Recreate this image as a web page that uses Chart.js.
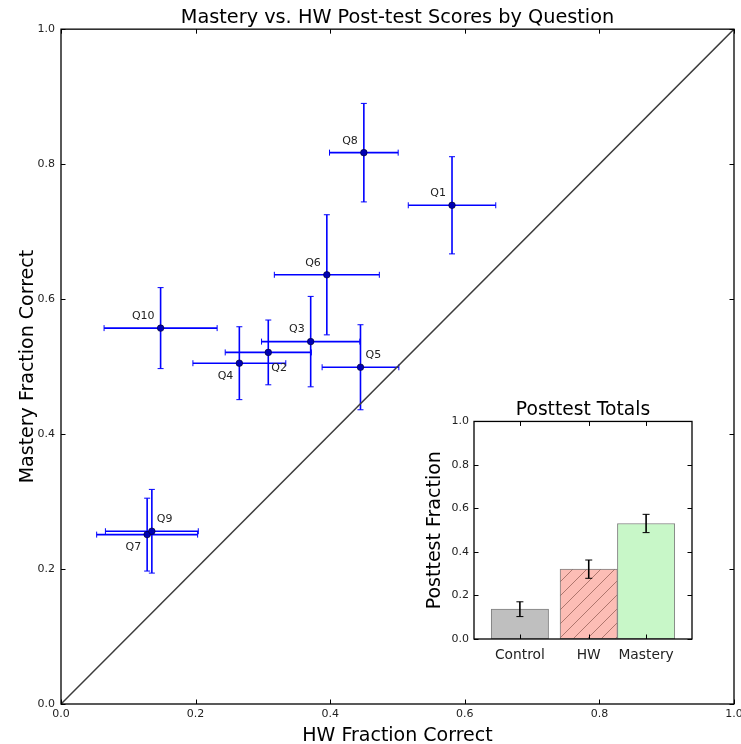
<!DOCTYPE html>
<html>
<head>
<meta charset="utf-8">
<title>Mastery vs. HW Post-test Scores by Question</title>
<script src="https://cdn.jsdelivr.net/npm/chart.js@4.4.1/dist/chart.umd.min.js"></script>
<style>
  html, body { margin: 0; padding: 0; background: #fff; }
  #wrap { position: relative; width: 741px; height: 744px; }
  #mainChart { position: absolute; left: 0; top: 0; }
  #insetChart { position: absolute; left: 404px; top: 388px; }
</style>
</head>
<body>
<div id="wrap">
  <canvas id="mainChart" width="741" height="744"></canvas>
  <canvas id="insetChart" width="300" height="280"></canvas>
</div>
<script>
// Per-question scores
const questions    = ['Q1', 'Q2', 'Q3', 'Q4', 'Q5', 'Q6', 'Q7', 'Q8', 'Q9', 'Q10'];
const hwScore      = [0.581, 0.308, 0.371, 0.265, 0.445, 0.395, 0.128, 0.450, 0.135, 0.148];
const hwErr        = [0.065, 0.064, 0.073, 0.069, 0.057, 0.078, 0.075, 0.051, 0.069, 0.084];
const masteryScore = [0.739, 0.521, 0.537, 0.505, 0.499, 0.636, 0.251, 0.817, 0.256, 0.557];
const masteryErr   = [0.072, 0.048, 0.067, 0.054, 0.063, 0.089, 0.054, 0.073, 0.062, 0.060];
// where each question label sits relative to its point
const labelSide    = ['ul', 'lr', 'ul', 'll', 'ur', 'ul', 'll', 'ul', 'ur', 'ul'];

// y = x reference line, over the axis range
const diagLine  = [0, 1];
const axisTicks = [0, 0.2, 0.4, 0.6, 0.8, 1.0];

// Inset: posttest totals
const groups      = ['Control', 'HW', 'Mastery'];
const groupPos    = [0.8, 2.0, 3.0];
const posttest    = [0.137, 0.321, 0.531];
const posttestErr = [0.034, 0.042, 0.042];

Chart.defaults.font.family = "'DejaVu Sans', sans-serif";
Chart.defaults.color = '#222';

const TICK = 4.5;

// inward ticks on all four sides + box frame (matplotlib classic look)
const frameTicks = {
    id: 'frameTicks',
    afterDraw(chart) {
        const { ctx, chartArea: a, scales: { x, y } } = chart;
        ctx.save();
        ctx.strokeStyle = '#000';
        ctx.lineWidth = 1;
        ctx.beginPath();
        x.ticks.forEach(t => {
            const px = Math.round(x.getPixelForValue(t.value)) + 0.5;
            ctx.moveTo(px, a.bottom); ctx.lineTo(px, a.bottom - TICK);
            ctx.moveTo(px, a.top);    ctx.lineTo(px, a.top + TICK);
        });
        y.ticks.forEach(t => {
            const py = Math.round(y.getPixelForValue(t.value)) + 0.5;
            ctx.moveTo(a.left, py);  ctx.lineTo(a.left + TICK, py);
            ctx.moveTo(a.right, py); ctx.lineTo(a.right - TICK, py);
        });
        ctx.stroke();
        ctx.lineWidth = 1.3;
        ctx.strokeRect(a.left, a.top, a.right - a.left, a.bottom - a.top);
        ctx.restore();
    }
};

// x and y error bars for the question scatter
const questionErrors = {
    id: 'questionErrors',
    beforeDatasetsDraw(chart) {
        const { ctx, scales: { x, y } } = chart;
        const cap = 3;
        ctx.save();
        ctx.strokeStyle = '#0000ff';
        questions.forEach((q, i) => {
            const px = x.getPixelForValue(hwScore[i]);
            const py = y.getPixelForValue(masteryScore[i]);
            const x0 = x.getPixelForValue(hwScore[i] - hwErr[i]);
            const x1 = x.getPixelForValue(hwScore[i] + hwErr[i]);
            const y0 = y.getPixelForValue(masteryScore[i] - masteryErr[i]);
            const y1 = y.getPixelForValue(masteryScore[i] + masteryErr[i]);
            ctx.lineWidth = 1.6;
            ctx.beginPath();
            ctx.moveTo(x0, py); ctx.lineTo(x1, py);
            ctx.moveTo(px, y0); ctx.lineTo(px, y1);
            ctx.stroke();
            ctx.lineWidth = 1;
            ctx.beginPath();
            ctx.moveTo(x0, py - cap); ctx.lineTo(x0, py + cap);
            ctx.moveTo(x1, py - cap); ctx.lineTo(x1, py + cap);
            ctx.moveTo(px - cap, y0); ctx.lineTo(px + cap, y0);
            ctx.moveTo(px - cap, y1); ctx.lineTo(px + cap, y1);
            ctx.stroke();
        });
        ctx.restore();
    }
};

// Q-labels next to each point
const questionLabels = {
    id: 'questionLabels',
    afterDatasetsDraw(chart) {
        const { ctx, scales: { x, y } } = chart;
        const offsets = {
            ul: [-6, -12, 'right'],
            ur: [5, -12, 'left'],
            ll: [-6, 13, 'right'],
            lr: [3, 16, 'left']
        };
        ctx.save();
        ctx.font = "11px 'DejaVu Sans'";
        ctx.fillStyle = '#222';
        ctx.textBaseline = 'middle';
        questions.forEach((q, i) => {
            const [dx, dy, align] = offsets[labelSide[i]];
            ctx.textAlign = align;
            ctx.fillText(q, x.getPixelForValue(hwScore[i]) + dx, y.getPixelForValue(masteryScore[i]) + dy);
        });
        ctx.restore();
    }
};

const mainChart = new Chart(document.getElementById('mainChart'), {
    type: 'scatter',
    data: {
        datasets: [
            {
                type: 'line',
                data: diagLine.map(v => ({ x: v, y: v })),
                borderColor: '#3c3c3c',
                borderWidth: 1.5,
                pointRadius: 0,
                order: 2
            },
            {
                data: questions.map((q, i) => ({ x: hwScore[i], y: masteryScore[i] })),
                pointRadius: 3.3,
                backgroundColor: '#0000b4',
                borderColor: '#000022',
                borderWidth: 0.6,
                order: 1
            }
        ]
    },
    options: {
        responsive: false,
        animation: false,
        layout: { padding: { left: 0, right: 7, top: 0, bottom: 0 } },
        plugins: {
            legend: { display: false },
            tooltip: { enabled: false },
            title: {
                display: true,
                text: 'Mastery vs. HW Post-test Scores by Question',
                fullSize: false,
                color: '#000',
                font: { size: 19.3, weight: 'normal', lineHeight: 1.2 },
                padding: { top: 6, bottom: 0 }
            }
        },
        scales: {
            x: {
                type: 'linear', min: 0, max: 1,
                grid: { display: false, drawTicks: false },
                border: { display: false },
                afterBuildTicks: s => { s.ticks = axisTicks.map(v => ({ value: v })); },
                ticks: { padding: 4, font: { size: 11 }, maxRotation: 0, autoSkip: false,
                         callback: v => v.toFixed(1) },
                title: { display: true, text: 'HW Fraction Correct', color: '#000',
                         font: { size: 19, lineHeight: 0.8 }, padding: { top: 0, bottom: 0 } },
                afterFit: s => { s.height = 40; s.paddingLeft = 0; s.paddingRight = 0; }
            },
            y: {
                type: 'linear', min: 0, max: 1,
                grid: { display: false, drawTicks: false },
                border: { display: false },
                afterBuildTicks: s => { s.ticks = axisTicks.map(v => ({ value: v })); },
                ticks: { padding: 6, font: { size: 11 }, autoSkip: false,
                         callback: v => v.toFixed(1) },
                title: { display: true, text: 'Mastery Fraction Correct', color: '#000',
                         font: { size: 19, lineHeight: 0.8 }, padding: { top: 20.8, bottom: 0 } },
                afterFit: s => { s.width = 61; s.paddingTop = 0; s.paddingBottom = 0; }
            }
        }
    },
    plugins: [questionErrors, questionLabels, frameTicks]
});

// hatch fill for the HW bar
function hatchPattern(bg, line) {
    const n = 14;
    const c = document.createElement('canvas');
    c.width = n; c.height = n;
    const g = c.getContext('2d');
    g.fillStyle = bg;
    g.fillRect(0, 0, n, n);
    g.strokeStyle = line;
    g.lineWidth = 1;
    g.beginPath();
    g.moveTo(-1, n + 1); g.lineTo(n + 1, -1);
    g.moveTo(-n / 2 - 1, n / 2 + 1); g.lineTo(n / 2 + 1, -n / 2 - 1);
    g.moveTo(n / 2 - 1, n * 1.5 + 1); g.lineTo(n * 1.5 + 1, n / 2 - 1);
    g.stroke();
    return g.createPattern(c, 'repeat');
}

const barErrors = {
    id: 'barErrors',
    afterDatasetsDraw(chart) {
        const { ctx, scales: { x, y } } = chart;
        const cap = 3.5;
        ctx.save();
        ctx.strokeStyle = '#000';
        groups.forEach((g, i) => {
            const px = x.getPixelForValue(groupPos[i]);
            const y0 = y.getPixelForValue(posttest[i] - posttestErr[i]);
            const y1 = y.getPixelForValue(posttest[i] + posttestErr[i]);
            ctx.lineWidth = 1.6;
            ctx.beginPath();
            ctx.moveTo(px, y0); ctx.lineTo(px, y1);
            ctx.stroke();
            ctx.lineWidth = 1;
            ctx.beginPath();
            ctx.moveTo(px - cap, y0); ctx.lineTo(px + cap, y0);
            ctx.moveTo(px - cap, y1); ctx.lineTo(px + cap, y1);
            ctx.stroke();
        });
        ctx.restore();
    }
};

const insetChart = new Chart(document.getElementById('insetChart'), {
    type: 'bar',
    data: {
        datasets: [{
            data: groups.map((g, i) => ({ x: groupPos[i], y: posttest[i] })),
            backgroundColor: ['#bfbfbf', hatchPattern('#fcbdb5', 'rgba(110,60,50,0.55)'), '#c8f7c8'],
            borderColor: '#808080',
            borderWidth: 1,
            borderSkipped: false,
            barPercentage: 1,
            categoryPercentage: 1
        }]
    },
    options: {
        responsive: false,
        animation: false,
        layout: { padding: { left: 0, right: 12, top: 0, bottom: 0 } },
        plugins: {
            legend: { display: false },
            tooltip: { enabled: false },
            title: {
                display: true,
                text: 'Posttest Totals',
                fullSize: false,
                color: '#000',
                font: { size: 18.7, weight: 'normal', lineHeight: 1.2 },
                padding: { top: 11, bottom: 0 }
            }
        },
        scales: {
            x: {
                type: 'linear', min: 0, max: 3.8,
                offset: false,
                grid: { display: false, offset: false, drawTicks: false },
                border: { display: false },
                afterBuildTicks: s => { s.ticks = groupPos.map(v => ({ value: v })); },
                ticks: { padding: 8, font: { size: 13.8 }, color: '#222', maxRotation: 0, autoSkip: false,
                         callback: (v, i) => groups[i] },
                afterFit: s => { s.height = 29; s.paddingLeft = 0; s.paddingRight = 0; }
            },
            y: {
                type: 'linear', min: 0, max: 1,
                grid: { display: false, drawTicks: false },
                border: { display: false },
                afterBuildTicks: s => { s.ticks = axisTicks.map(v => ({ value: v })); },
                ticks: { padding: 5, font: { size: 11 }, autoSkip: false,
                         callback: v => v.toFixed(1) },
                title: { display: true, text: 'Posttest Fraction', color: '#000',
                         font: { size: 19, lineHeight: 0.8 }, padding: { top: 23.8, bottom: 0 } },
                afterFit: s => { s.width = 70; s.paddingTop = 0; s.paddingBottom = 0; }
            }
        }
    },
    plugins: [barErrors, frameTicks]
});
</script>
</body>
</html>
